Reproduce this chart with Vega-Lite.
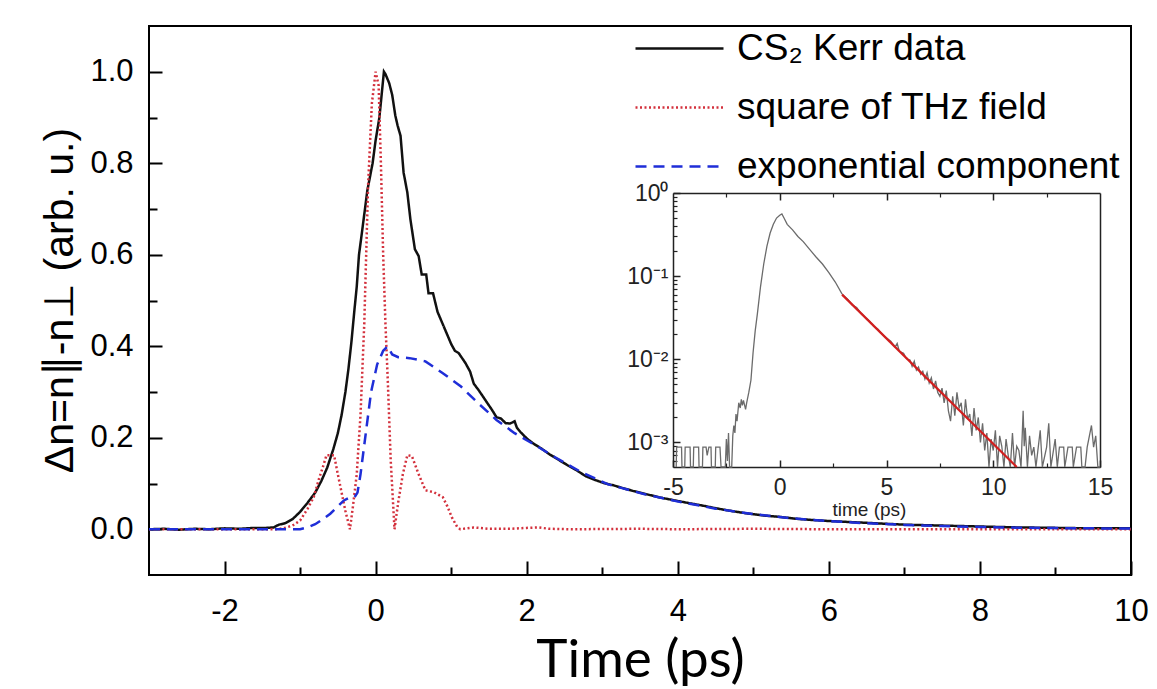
{
"$schema": "https://vega.github.io/schema/vega-lite/v6.json",
"width": 982, "height": 549,
"autosize": {"type": "none"},
"padding": {"left": 149, "top": 26, "right": 26, "bottom": 114},
"background": "white",
"config": {
  "view": {"stroke": "black", "strokeWidth": 2},
  "axis": {"grid": false, "tickColor": "black", "domainColor": "black", "labelColor": "black", "titleColor": "black", "labelFont": "Liberation Sans", "titleFont": "Liberation Sans", "titleFontWeight": "normal", "labelOverlap": false, "labelFlush": false}
},
"datasets": {
  "main": [
    {"s":"CS₂ Kerr data","t":-3,"v":0.0},{"s":"CS₂ Kerr data","t":-2.8,"v":0.001},{"s":"CS₂ Kerr data","t":-2.6,"v":-0.001},{"s":"CS₂ Kerr data","t":-2.4,"v":0.001},{"s":"CS₂ Kerr data","t":-2.2,"v":0.0},{"s":"CS₂ Kerr data","t":-2.0,"v":0.002},{"s":"CS₂ Kerr data","t":-1.8,"v":0.001},{"s":"CS₂ Kerr data","t":-1.6,"v":0.003},{"s":"CS₂ Kerr data","t":-1.45,"v":0.003},{"s":"CS₂ Kerr data","t":-1.35,"v":0.004},{"s":"CS₂ Kerr data","t":-1.28,"v":0.01},{"s":"CS₂ Kerr data","t":-1.2,"v":0.013},{"s":"CS₂ Kerr data","t":-1.1,"v":0.022},{"s":"CS₂ Kerr data","t":-1.0,"v":0.038},{"s":"CS₂ Kerr data","t":-0.9,"v":0.058},{"s":"CS₂ Kerr data","t":-0.8,"v":0.08},{"s":"CS₂ Kerr data","t":-0.72,"v":0.105},{"s":"CS₂ Kerr data","t":-0.64,"v":0.135},{"s":"CS₂ Kerr data","t":-0.56,"v":0.175},{"s":"CS₂ Kerr data","t":-0.5,"v":0.21},{"s":"CS₂ Kerr data","t":-0.45,"v":0.25},{"s":"CS₂ Kerr data","t":-0.4,"v":0.3},{"s":"CS₂ Kerr data","t":-0.36,"v":0.35},{"s":"CS₂ Kerr data","t":-0.32,"v":0.41},{"s":"CS₂ Kerr data","t":-0.28,"v":0.48},{"s":"CS₂ Kerr data","t":-0.25,"v":0.53},{"s":"CS₂ Kerr data","t":-0.22,"v":0.6},{"s":"CS₂ Kerr data","t":-0.18,"v":0.65},{"s":"CS₂ Kerr data","t":-0.11,"v":0.74},{"s":"CS₂ Kerr data","t":-0.04,"v":0.8},{"s":"CS₂ Kerr data","t":0.0,"v":0.85},{"s":"CS₂ Kerr data","t":0.05,"v":0.9},{"s":"CS₂ Kerr data","t":0.08,"v":0.95},{"s":"CS₂ Kerr data","t":0.11,"v":1.0},{"s":"CS₂ Kerr data","t":0.13,"v":0.995},{"s":"CS₂ Kerr data","t":0.18,"v":0.975},{"s":"CS₂ Kerr data","t":0.22,"v":0.949},{"s":"CS₂ Kerr data","t":0.26,"v":0.905},{"s":"CS₂ Kerr data","t":0.29,"v":0.883},{"s":"CS₂ Kerr data","t":0.33,"v":0.86},{"s":"CS₂ Kerr data","t":0.37,"v":0.78},{"s":"CS₂ Kerr data","t":0.42,"v":0.736},{"s":"CS₂ Kerr data","t":0.46,"v":0.678},{"s":"CS₂ Kerr data","t":0.52,"v":0.612},{"s":"CS₂ Kerr data","t":0.57,"v":0.597},{"s":"CS₂ Kerr data","t":0.61,"v":0.557},{"s":"CS₂ Kerr data","t":0.67,"v":0.557},{"s":"CS₂ Kerr data","t":0.7,"v":0.516},{"s":"CS₂ Kerr data","t":0.76,"v":0.516},{"s":"CS₂ Kerr data","t":0.82,"v":0.475},{"s":"CS₂ Kerr data","t":0.9,"v":0.444},{"s":"CS₂ Kerr data","t":1.0,"v":0.405},{"s":"CS₂ Kerr data","t":1.05,"v":0.39},{"s":"CS₂ Kerr data","t":1.1,"v":0.385},{"s":"CS₂ Kerr data","t":1.19,"v":0.363},{"s":"CS₂ Kerr data","t":1.25,"v":0.345},{"s":"CS₂ Kerr data","t":1.3,"v":0.318},{"s":"CS₂ Kerr data","t":1.36,"v":0.305},{"s":"CS₂ Kerr data","t":1.45,"v":0.283},{"s":"CS₂ Kerr data","t":1.54,"v":0.261},{"s":"CS₂ Kerr data","t":1.6,"v":0.245},{"s":"CS₂ Kerr data","t":1.66,"v":0.242},{"s":"CS₂ Kerr data","t":1.72,"v":0.232},{"s":"CS₂ Kerr data","t":1.78,"v":0.231},{"s":"CS₂ Kerr data","t":1.84,"v":0.236},{"s":"CS₂ Kerr data","t":1.87,"v":0.222},{"s":"CS₂ Kerr data","t":1.92,"v":0.212},{"s":"CS₂ Kerr data","t":2.01,"v":0.197},{"s":"CS₂ Kerr data","t":2.1,"v":0.186},{"s":"CS₂ Kerr data","t":2.19,"v":0.177},{"s":"CS₂ Kerr data","t":2.3,"v":0.164},{"s":"CS₂ Kerr data","t":2.43,"v":0.151},{"s":"CS₂ Kerr data","t":2.55,"v":0.139},{"s":"CS₂ Kerr data","t":2.66,"v":0.129},{"s":"CS₂ Kerr data","t":2.78,"v":0.116},{"s":"CS₂ Kerr data","t":2.9,"v":0.108},{"s":"CS₂ Kerr data","t":3.02,"v":0.101},{"s":"CS₂ Kerr data","t":3.15,"v":0.096},{"s":"CS₂ Kerr data","t":3.25,"v":0.091},{"s":"CS₂ Kerr data","t":3.4,"v":0.084},{"s":"CS₂ Kerr data","t":3.55,"v":0.078},{"s":"CS₂ Kerr data","t":3.75,"v":0.07},{"s":"CS₂ Kerr data","t":3.96,"v":0.063},{"s":"CS₂ Kerr data","t":4.15,"v":0.057},{"s":"CS₂ Kerr data","t":4.32,"v":0.052},{"s":"CS₂ Kerr data","t":4.5,"v":0.046},{"s":"CS₂ Kerr data","t":4.67,"v":0.041},{"s":"CS₂ Kerr data","t":4.9,"v":0.035},{"s":"CS₂ Kerr data","t":5.14,"v":0.03},{"s":"CS₂ Kerr data","t":5.35,"v":0.027},{"s":"CS₂ Kerr data","t":5.56,"v":0.023},{"s":"CS₂ Kerr data","t":5.8,"v":0.02},{"s":"CS₂ Kerr data","t":6.0,"v":0.018},{"s":"CS₂ Kerr data","t":6.25,"v":0.016},{"s":"CS₂ Kerr data","t":6.5,"v":0.014},{"s":"CS₂ Kerr data","t":6.75,"v":0.012},{"s":"CS₂ Kerr data","t":7.0,"v":0.01},{"s":"CS₂ Kerr data","t":7.5,"v":0.008},{"s":"CS₂ Kerr data","t":8.0,"v":0.006},{"s":"CS₂ Kerr data","t":8.5,"v":0.004},{"s":"CS₂ Kerr data","t":9.0,"v":0.003},{"s":"CS₂ Kerr data","t":9.5,"v":0.002},{"s":"CS₂ Kerr data","t":10,"v":0.002},
    {"s":"square of THz field","t":-3,"v":0},{"s":"square of THz field","t":-2,"v":0},{"s":"square of THz field","t":-1.3,"v":0},{"s":"square of THz field","t":-1.2,"v":0.003},{"s":"square of THz field","t":-1.1,"v":0.008},{"s":"square of THz field","t":-1.0,"v":0.019},{"s":"square of THz field","t":-0.9,"v":0.045},{"s":"square of THz field","t":-0.82,"v":0.07},{"s":"square of THz field","t":-0.75,"v":0.11},{"s":"square of THz field","t":-0.7,"v":0.135},{"s":"square of THz field","t":-0.65,"v":0.162},{"s":"square of THz field","t":-0.55,"v":0.162},{"s":"square of THz field","t":-0.5,"v":0.12},{"s":"square of THz field","t":-0.45,"v":0.08},{"s":"square of THz field","t":-0.4,"v":0.04},{"s":"square of THz field","t":-0.34,"v":0.0},{"s":"square of THz field","t":-0.3,"v":0.05},{"s":"square of THz field","t":-0.25,"v":0.12},{"s":"square of THz field","t":-0.2,"v":0.25},{"s":"square of THz field","t":-0.15,"v":0.45},{"s":"square of THz field","t":-0.1,"v":0.75},{"s":"square of THz field","t":-0.05,"v":0.93},{"s":"square of THz field","t":0.0,"v":1.0},{"s":"square of THz field","t":0.04,"v":0.97},{"s":"square of THz field","t":0.07,"v":0.8},{"s":"square of THz field","t":0.1,"v":0.6},{"s":"square of THz field","t":0.13,"v":0.45},{"s":"square of THz field","t":0.16,"v":0.33},{"s":"square of THz field","t":0.2,"v":0.15},{"s":"square of THz field","t":0.25,"v":0.0},{"s":"square of THz field","t":0.3,"v":0.06},{"s":"square of THz field","t":0.36,"v":0.12},{"s":"square of THz field","t":0.42,"v":0.162},{"s":"square of THz field","t":0.48,"v":0.16},{"s":"square of THz field","t":0.57,"v":0.12},{"s":"square of THz field","t":0.66,"v":0.085},{"s":"square of THz field","t":0.77,"v":0.081},{"s":"square of THz field","t":0.89,"v":0.07},{"s":"square of THz field","t":0.95,"v":0.05},{"s":"square of THz field","t":1.01,"v":0.026},{"s":"square of THz field","t":1.08,"v":0.005},{"s":"square of THz field","t":1.12,"v":0.0},{"s":"square of THz field","t":1.3,"v":0.004},{"s":"square of THz field","t":1.5,"v":0.001},{"s":"square of THz field","t":1.8,"v":0.001},{"s":"square of THz field","t":2.0,"v":0.003},{"s":"square of THz field","t":2.15,"v":0.004},{"s":"square of THz field","t":2.3,"v":0.001},{"s":"square of THz field","t":2.6,"v":0.0},{"s":"square of THz field","t":3.5,"v":0.001},{"s":"square of THz field","t":4.0,"v":0.0},{"s":"square of THz field","t":5.0,"v":0.001},{"s":"square of THz field","t":6.0,"v":0.0},{"s":"square of THz field","t":10,"v":0.0},
    {"s":"exponential component","t":-3,"v":0},{"s":"exponential component","t":-2,"v":0},{"s":"exponential component","t":-1.0,"v":0},{"s":"exponential component","t":-0.9,"v":0.004},{"s":"exponential component","t":-0.8,"v":0.011},{"s":"exponential component","t":-0.7,"v":0.022},{"s":"exponential component","t":-0.6,"v":0.034},{"s":"exponential component","t":-0.5,"v":0.05},{"s":"exponential component","t":-0.42,"v":0.063},{"s":"exponential component","t":-0.36,"v":0.068},{"s":"exponential component","t":-0.28,"v":0.07},{"s":"exponential component","t":-0.24,"v":0.08},{"s":"exponential component","t":-0.2,"v":0.12},{"s":"exponential component","t":-0.13,"v":0.21},{"s":"exponential component","t":-0.06,"v":0.3},{"s":"exponential component","t":0.02,"v":0.36},{"s":"exponential component","t":0.1,"v":0.39},{"s":"exponential component","t":0.16,"v":0.4},{"s":"exponential component","t":0.22,"v":0.382},{"s":"exponential component","t":0.3,"v":0.376},{"s":"exponential component","t":0.45,"v":0.374},{"s":"exponential component","t":0.66,"v":0.367},{"s":"exponential component","t":0.89,"v":0.341},{"s":"exponential component","t":1.13,"v":0.312},{"s":"exponential component","t":1.36,"v":0.275},{"s":"exponential component","t":1.6,"v":0.239},{"s":"exponential component","t":1.84,"v":0.21},{"s":"exponential component","t":2.07,"v":0.188},{"s":"exponential component","t":2.37,"v":0.158},{"s":"exponential component","t":2.72,"v":0.125},{"s":"exponential component","t":3.08,"v":0.098},{"s":"exponential component","t":3.55,"v":0.077},{"s":"exponential component","t":3.96,"v":0.062},{"s":"exponential component","t":4.5,"v":0.045},{"s":"exponential component","t":5.0,"v":0.033},{"s":"exponential component","t":5.5,"v":0.024},{"s":"exponential component","t":6.0,"v":0.018},{"s":"exponential component","t":6.5,"v":0.013},{"s":"exponential component","t":7.0,"v":0.0095},{"s":"exponential component","t":7.5,"v":0.007},{"s":"exponential component","t":8.0,"v":0.005},{"s":"exponential component","t":8.5,"v":0.0035},{"s":"exponential component","t":9.0,"v":0.0025},{"s":"exponential component","t":9.5,"v":0.002},{"s":"exponential component","t":10,"v":0.0015}
  ],
  "inset": [
    {"t":-4.85,"v":0.000507},{"t":-4.83,"v":0.00088},{"t":-4.6,"v":0.00088},{"t":-4.58,"v":0.000507},{"t":-4.45,"v":0.000507},{"t":-4.43,"v":0.00088},{"t":-4.2,"v":0.00088},{"t":-4.18,"v":0.000507},{"t":-4.05,"v":0.000507},{"t":-4.03,"v":0.00088},{"t":-3.8,"v":0.00088},{"t":-3.78,"v":0.000507},{"t":-3.62,"v":0.000507},{"t":-3.6,"v":0.00088},{"t":-3.45,"v":0.00088},{"t":-3.4,"v":0.0007},{"t":-3.32,"v":0.00088},{"t":-3.22,"v":0.00088},{"t":-3.2,"v":0.000507},{"t":-3.02,"v":0.000507},{"t":-3.0,"v":0.00088},{"t":-2.8,"v":0.00088},{"t":-2.75,"v":0.000507},{"t":-2.55,"v":0.000507},{"t":-2.5,"v":0.0011},{"t":-2.45,"v":0.0006},{"t":-2.4,"v":0.0013},{"t":-2.35,"v":0.000507},{"t":-2.25,"v":0.000507},{"t":-2.2,"v":0.0012},{"t":-2.15,"v":0.0016},{"t":-2.1,"v":0.0013},{"t":-2.05,"v":0.0022},{"t":-2.0,"v":0.0018},{"t":-1.92,"v":0.003},{"t":-1.85,"v":0.0026},{"t":-1.8,"v":0.0033},{"t":-1.75,"v":0.0028},{"t":-1.7,"v":0.0032},{"t":-1.6,"v":0.0025},{"t":-1.55,"v":0.003},{"t":-1.45,"v":0.004},{"t":-1.35,"v":0.0056},{"t":-1.25,"v":0.012},{"t":-1.15,"v":0.022},{"t":-1.05,"v":0.035},{"t":-0.9,"v":0.075},{"t":-0.75,"v":0.14},{"t":-0.6,"v":0.23},{"t":-0.45,"v":0.33},{"t":-0.3,"v":0.42},{"t":-0.15,"v":0.5},{"t":0.0,"v":0.54},{"t":0.1,"v":0.56},{"t":0.2,"v":0.5},{"t":0.35,"v":0.42},{"t":0.6,"v":0.36},{"t":0.85,"v":0.3},{"t":1.1,"v":0.26},{"t":1.4,"v":0.21},{"t":1.7,"v":0.17},{"t":2.0,"v":0.14},{"t":2.3,"v":0.11},{"t":2.6,"v":0.085},{"t":2.9,"v":0.062},{"t":3.0,"v":0.058},{"t":3.2,"v":0.052},{"t":3.4,"v":0.045},{"t":3.6,"v":0.042},{"t":3.8,"v":0.036},{"t":4.0,"v":0.032},{"t":4.2,"v":0.029},{"t":4.4,"v":0.025},{"t":4.6,"v":0.023},{"t":4.8,"v":0.02},{"t":5.0,"v":0.018},{"t":5.2,"v":0.0165},{"t":5.4,"v":0.014},{"t":5.5,"v":0.0155},{"t":5.6,"v":0.0125},{"t":5.8,"v":0.0118},{"t":5.9,"v":0.0105},{"t":6.0,"v":0.01},{"t":6.1,"v":0.0098},{"t":6.2,"v":0.0082},{"t":6.3,"v":0.0095},{"t":6.4,"v":0.0074},{"t":6.5,"v":0.0081},{"t":6.6,"v":0.0066},{"t":6.7,"v":0.0072},{"t":6.8,"v":0.0058},{"t":6.9,"v":0.0069},{"t":7.0,"v":0.0052},{"t":7.1,"v":0.006},{"t":7.2,"v":0.0044},{"t":7.3,"v":0.0055},{"t":7.4,"v":0.004},{"t":7.5,"v":0.0036},{"t":7.6,"v":0.0045},{"t":7.7,"v":0.003},{"t":7.8,"v":0.0042},{"t":7.9,"v":0.0024},{"t":8.0,"v":0.0018},{"t":8.1,"v":0.0036},{"t":8.2,"v":0.0021},{"t":8.3,"v":0.004},{"t":8.4,"v":0.0026},{"t":8.5,"v":0.003},{"t":8.6,"v":0.0016},{"t":8.7,"v":0.0033},{"t":8.8,"v":0.0019},{"t":8.9,"v":0.0022},{"t":9.0,"v":0.0012},{"t":9.1,"v":0.0026},{"t":9.2,"v":0.0014},{"t":9.3,"v":0.002},{"t":9.4,"v":0.001},{"t":9.5,"v":0.0017},{"t":9.6,"v":0.0008},{"t":9.7,"v":0.0013},{"t":9.8,"v":0.000507},{"t":9.9,"v":0.0011},{"t":10.0,"v":0.0008},{"t":10.1,"v":0.0014},{"t":10.2,"v":0.000507},{"t":10.3,"v":0.0012},{"t":10.4,"v":0.0009},{"t":10.5,"v":0.000507},{"t":10.6,"v":0.0011},{"t":10.7,"v":0.0007},{"t":10.8,"v":0.000507},{"t":10.9,"v":0.0013},{"t":11.0,"v":0.000507},{"t":11.1,"v":0.0009},{"t":11.2,"v":0.0008},{"t":11.3,"v":0.000507},{"t":11.4,"v":0.0024},{"t":11.45,"v":0.0009},{"t":11.5,"v":0.0015},{"t":11.6,"v":0.000507},{"t":11.7,"v":0.0012},{"t":11.8,"v":0.0007},{"t":11.9,"v":0.00088},{"t":12.0,"v":0.000507},{"t":12.2,"v":0.0014},{"t":12.3,"v":0.000507},{"t":12.5,"v":0.00088},{"t":12.6,"v":0.0017},{"t":12.7,"v":0.000507},{"t":12.9,"v":0.0011},{"t":13.0,"v":0.000507},{"t":13.1,"v":0.00088},{"t":13.3,"v":0.00088},{"t":13.35,"v":0.000507},{"t":13.5,"v":0.00088},{"t":13.7,"v":0.00088},{"t":13.75,"v":0.000507},{"t":13.9,"v":0.00088},{"t":14.1,"v":0.00088},{"t":14.15,"v":0.000507},{"t":14.3,"v":0.000507},{"t":14.4,"v":0.00088},{"t":14.6,"v":0.0016},{"t":14.7,"v":0.00088},{"t":14.8,"v":0.0012},{"t":14.9,"v":0.000507},{"t":15.0,"v":0.000507}
  ],
  "fit": [{"t":2.92,"v":0.06},{"t":11.1,"v":0.000507}]
},
"layer": [
  {
    "data": {"name": "main"},
    "mark": {"type": "line", "strokeWidth": 2.5},
    "encoding": {
      "x": {"field": "t", "type": "quantitative",
        "scale": {"domain": [-3, 10], "nice": false, "zero": false},
        "axis": {"orient": "bottom", "values": [-2,0,2,4,6,8,10], "labelExpr": "datum.value < 0 ? '-' + (-datum.value) : '' + datum.value", "domain": false, "tickSize": -14, "tickWidth": 2, "labelPadding": 35, "labelFontSize": 31,
          "title": "Time (ps)", "titleFont": "Lato", "titleFontSize": 53, "titleX": 491, "titleY": 85, "titleBaseline": "middle", "titleAlign": "center"}},
      "y": {"field": "v", "type": "quantitative",
        "scale": {"domain": [-0.1, 1.1], "nice": false, "zero": false},
        "axis": {"orient": "left", "values": [0,0.2,0.4,0.6,0.8,1.0], "format": ".1f", "domain": false, "tickSize": -13, "tickWidth": 2, "labelPadding": 29, "labelFontSize": 31,
          "title": "Δn=n∥-n⊥ (arb. u.)", "titleFontSize": 41, "titleX": -89, "titleY": 274, "titleAngle": -90, "titleBaseline": "middle", "titleAlign": "center"}},
      "color": {"field": "s", "type": "nominal",
        "scale": {"domain": ["CS₂ Kerr data", "square of THz field", "exponential component"], "range": ["#111111", "#d3303c", "#1f2ed8"]},
        "legend": {"orient": "none", "legendX": 512, "legendY": 4, "title": null, "symbolType": "M-4,0H4", "symbolSize": 484, "symbolStrokeWidth": 2.5, "symbolFillColor": "transparent", "labelFontSize": 37, "labelFont": "Liberation Sans", "labelColor": "black", "labelOffset": 39, "rowPadding": 21, "padding": 0, "labelLimit": 0}},
      "strokeDash": {"field": "s", "type": "nominal",
        "scale": {"domain": ["CS₂ Kerr data", "square of THz field", "exponential component"], "range": [[1,0],[2,2.5],[11,7]]},
        "legend": {"orient": "none", "legendX": 512, "legendY": 4, "title": null, "symbolType": "M-4,0H4", "symbolSize": 484, "symbolStrokeWidth": 2.5, "symbolFillColor": "transparent", "labelFontSize": 37, "labelFont": "Liberation Sans", "labelColor": "black", "labelOffset": 39, "rowPadding": 21, "padding": 0, "labelLimit": 0}}
    }
  },
  {
    "data": {"name": "fit"},
    "mark": {"type": "point", "opacity": 0},
    "encoding": {
      "x": {"field": "t", "type": "quantitative", "scale": {"domain": [-3, 10], "nice": false, "zero": false},
        "axis": {"orient": "bottom", "values": [-1,1,3,5,7,9], "domain": false, "labels": false, "tickSize": -8, "tickWidth": 2, "title": null}},
      "y": {"field": "v", "type": "quantitative", "scale": {"domain": [-0.1, 1.1], "nice": false, "zero": false},
        "axis": {"orient": "left", "values": [0.1,0.3,0.5,0.7,0.9], "domain": false, "labels": false, "tickSize": -8, "tickWidth": 2, "title": null}}
    }
  },
  {
    "layer": [
      {"data": {"name": "inset"}, "mark": {"type": "line", "stroke": "#6b6b6b", "strokeWidth": 1.3}},
      {"data": {"name": "fit"}, "mark": {"type": "line", "stroke": "#d11f1f", "strokeWidth": 2.2}}
    ],
    "encoding": {
      "x": {"field": "t", "type": "quantitative", "scale": {"domain": [-5, 15], "range": [524, 951], "nice": false, "zero": false},
        "axis": {"orient": "bottom", "offset": -108, "values": [-5,0,5,10,15], "labelExpr": "datum.value < 0 ? '-' + (-datum.value) : '' + datum.value", "domain": true, "domainColor": "#222222", "domainWidth": 1.5, "tickSize": -7, "tickWidth": 1.5, "tickColor": "#222222", "labelPadding": 16, "labelFontSize": 23, "labelColor": "#222222",
          "title": "time (ps)", "titleFontSize": 19, "titleColor": "#222222", "titleX": 720, "titleY": 42, "titleBaseline": "middle", "titleAlign": "center"}},
      "y": {"field": "v", "type": "quantitative", "scale": {"type": "log", "domain": [0.000507, 1], "range": [441, 167], "nice": false},
        "axis": {"orient": "left", "offset": -524, "values": [1, 0.1, 0.01, 0.001], "labelExpr": "'10' + ['⁰','⁻¹','⁻²','⁻³'][round(-log(datum.value)/LN10)]", "domain": true, "domainColor": "#222222", "domainWidth": 1.5, "tickSize": -7, "tickWidth": 1.5, "tickColor": "#222222", "labelPadding": 12, "labelFontSize": 23, "labelColor": "#222222", "title": null}}
    }
  },
  {
    "data": {"name": "fit"},
    "mark": {"type": "point", "opacity": 0},
    "encoding": {
      "x": {"field": "t", "type": "quantitative", "scale": {"domain": [-5, 15], "range": [524, 951], "nice": false, "zero": false},
        "axis": {"orient": "bottom", "offset": -108, "values": [-2.5,2.5,7.5,12.5], "domain": false, "labels": false, "tickSize": -4, "tickWidth": 1.2, "tickColor": "#222222", "title": null}},
      "y": {"field": "v", "type": "quantitative", "scale": {"type": "log", "domain": [0.000507, 1], "range": [441, 167], "nice": false},
        "axis": {"orient": "left", "offset": -524, "values": [0.0006,0.0007,0.0008,0.0009,0.002,0.003,0.004,0.005,0.006,0.007,0.008,0.009,0.02,0.03,0.04,0.05,0.06,0.07,0.08,0.09,0.2,0.3,0.4,0.5,0.6,0.7,0.8,0.9], "domain": false, "labels": false, "tickSize": -4, "tickWidth": 1.2, "tickColor": "#222222", "title": null}}
    }
  },
  {
    "data": {"name": "fit"},
    "mark": {"type": "point", "opacity": 0},
    "encoding": {
      "x": {"field": "t", "type": "quantitative", "scale": {"domain": [-5, 15], "range": [524, 951], "nice": false, "zero": false},
        "axis": {"orient": "top", "offset": -167, "values": [0,5,10], "domain": true, "domainColor": "#222222", "domainWidth": 1.5, "labels": false, "tickSize": -7, "tickWidth": 1.5, "tickColor": "#222222", "title": null}},
      "y": {"field": "v", "type": "quantitative", "scale": {"type": "log", "domain": [0.000507, 1], "range": [441, 167], "nice": false},
        "axis": {"orient": "right", "offset": -31, "domain": true, "domainColor": "#222222", "domainWidth": 1.5, "ticks": false, "labels": false, "title": null}}
    }
  },
  {
    "data": {"name": "fit"},
    "mark": {"type": "point", "opacity": 0},
    "encoding": {
      "x": {"field": "t", "type": "quantitative", "scale": {"domain": [-5, 15], "range": [524, 951], "nice": false, "zero": false},
        "axis": {"orient": "top", "offset": -167, "values": [-2.5,2.5,7.5,12.5], "domain": false, "labels": false, "tickSize": -4, "tickWidth": 1.2, "tickColor": "#222222", "title": null}}
    }
  }
],
"resolve": {"scale": {"x": "independent", "y": "independent"}}
}
